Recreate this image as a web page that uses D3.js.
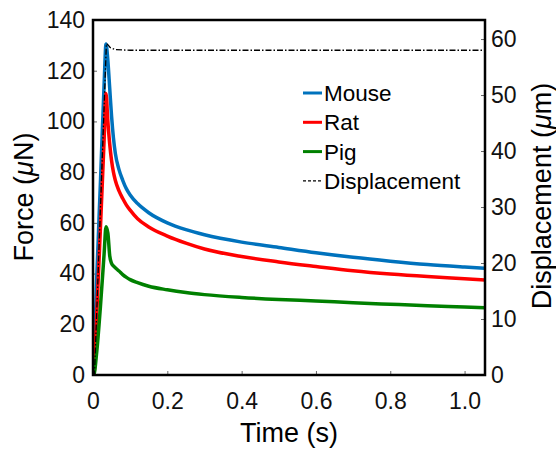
<!DOCTYPE html>
<html>
<head>
<meta charset="utf-8">
<script src="https://cdn.jsdelivr.net/npm/d3@7"></script>
<style>
  body { margin: 0; background: #fff; }
  text { font-family: "Liberation Sans", Arial, sans-serif; }
</style>
</head>
<body>
<div id="chart"></div>
<script>
// values
let time = [0, 0.002, 0.01, 0.02, 0.03, 0.035, 0.04, 0.045, 0.05, 0.055, 0.06, 0.07, 0.08, 0.09, 0.1, 0.12, 0.15, 0.2, 0.25, 0.3, 0.4, 0.5, 0.6, 0.7, 0.8, 0.9, 1.0, 1.055];
let mouse = [0, 4, 38, 76, 115, 130.5, 124, 113, 102, 93.5, 87.5, 81, 76.8, 73.4, 71, 67.6, 64, 60, 57.3, 55.3, 52.4, 50.3, 48.2, 46.4, 44.9, 43.6, 42.6, 42.1];
let rat = [0, 0, 24, 58, 93, 111, 100, 91, 84.5, 80, 76.8, 72.6, 69.6, 67, 65, 61.6, 58.4, 54.8, 52, 49.7, 46.7, 44.6, 42.8, 41.1, 39.8, 38.8, 38, 37.5];
let pig = [0, 0, 9, 27, 48, 58.5, 56, 47, 44, 43, 42.3, 41, 39.6, 38.5, 37.6, 36.4, 35, 33.6, 32.5, 31.7, 30.6, 29.8, 29.2, 28.5, 27.9, 27.3, 26.8, 26.5];
let dispTime = [0, 0.004, 0.036, 0.04, 0.046, 0.06, 0.1, 0.5, 1.055];
let displacement = [0, 0, 59.2, 59, 58.5, 58.1, 58, 58, 58];

let xTicks = [0, 0.2, 0.4, 0.6, 0.8, 1.0];
let xTickLabels = ["0", "0.2", "0.4", "0.6", "0.8", "1.0"];
let yTicks = [0, 20, 40, 60, 80, 100, 120, 140];
let y2Ticks = [0, 10, 20, 30, 40, 50, 60];

let seriesNames = ["Mouse", "Rat", "Pig"];
let seriesColors = ["#0072BD", "#FF0000", "#008000"];

let w = 556;
let h = 450;
let pLeft = 93, pRight = 485, pTop = 20, pBottom = 375;

let svg = d3.select("#chart")
    .append("svg")
    .attr("width", w)
    .attr("height", h);

let xScale = d3.scaleLinear().domain([0, 1.055]).range([pLeft, pRight]);
let yScale = d3.scaleLinear().domain([0, 140]).range([pBottom, pTop]);
let y2Scale = d3.scaleLinear().domain([0, 63.4]).range([pBottom, pTop]);

svg.append("clipPath")
    .attr("id", "plot")
    .append("rect")
    .attr("x", pLeft)
    .attr("y", pTop - 5)
    .attr("width", pRight - pLeft)
    .attr("height", pBottom - pTop + 5);

// axes, ticks point inward
let xAxis = d3.axisBottom(xScale)
    .tickValues(xTicks)
    .tickFormat(function (d, i) { return xTickLabels[i]; })
    .tickSize(-4)
    .tickPadding(18);
let xAxisGroup = svg.append("g")
    .attr("transform", "translate(0," + pBottom + ")")
    .call(xAxis);

let yAxis = d3.axisLeft(yScale)
    .tickValues(yTicks)
    .tickSize(-4)
    .tickPadding(8);
let yAxisGroup = svg.append("g")
    .attr("transform", "translate(" + pLeft + ",0)")
    .call(yAxis);

let y2Axis = d3.axisRight(y2Scale)
    .tickValues(y2Ticks)
    .tickSize(-4)
    .tickPadding(6);
let y2AxisGroup = svg.append("g")
    .attr("transform", "translate(" + pRight + ",0)")
    .call(y2Axis);

svg.selectAll(".domain").remove();
svg.selectAll(".tick line").attr("stroke", "#666").attr("stroke-width", 1);
svg.selectAll(".tick text")
    .attr("font-size", 23)
    .attr("fill", "#111")
    .style("font-family", "'Liberation Sans', Arial, sans-serif");

// curves
let plot = svg.append("g").attr("clip-path", "url(#plot)");
let line = d3.line()
    .curve(d3.curveMonotoneX)
    .x(function (d) { return xScale(d[0]); })
    .y(function (d) { return yScale(d[1]); });

[mouse, rat, pig].forEach(function (vals, i) {
    plot.append("path")
        .datum(time.map(function (t, j) { return [t, vals[j]]; }))
        .attr("d", line)
        .attr("fill", "none")
        .attr("stroke", seriesColors[i])
        .attr("stroke-width", 3.5)
        .attr("stroke-linejoin", "round");
});

let dispLine = d3.line()
    .x(function (d) { return xScale(d[0]); })
    .y(function (d) { return y2Scale(d[1]); });
plot.append("path")
    .datum(dispTime.map(function (t, j) { return [t, displacement[j]]; }))
    .attr("d", dispLine)
    .attr("fill", "none")
    .attr("stroke", "#000")
    .attr("stroke-width", 1.3)
    .attr("stroke-dasharray", "6,2,1.5,2");

// frame
svg.append("rect")
    .attr("x", pLeft)
    .attr("y", pTop)
    .attr("width", pRight - pLeft)
    .attr("height", pBottom - pTop)
    .attr("fill", "none")
    .attr("stroke", "#000")
    .attr("stroke-width", 2.5);

// axis labels
svg.append("text")
    .attr("x", (pLeft + pRight) / 2)
    .attr("y", 442)
    .attr("text-anchor", "middle")
    .attr("font-size", 27)
    .text("Time (s)");

let yLab = svg.append("text")
    .attr("transform", "translate(33,197) rotate(-90)")
    .attr("text-anchor", "middle")
    .attr("font-size", 27);
yLab.append("tspan").text("Force (");
yLab.append("tspan").attr("font-style", "italic").text("\u03bc");
yLab.append("tspan").text("N)");

let y2Lab = svg.append("text")
    .attr("transform", "translate(551,196) rotate(-90)")
    .attr("text-anchor", "middle")
    .attr("font-size", 27);
y2Lab.append("tspan").text("Displacement (");
y2Lab.append("tspan").attr("font-style", "italic").text("\u03bc");
y2Lab.append("tspan").text("m)");

// legend
let legendNames = seriesNames.concat(["Displacement"]);
let legend = svg.append("g");
legendNames.forEach(function (name, i) {
    let y = 93 + i * 29.3;
    legend.append("line")
        .attr("x1", 303)
        .attr("x2", 322)
        .attr("y1", y)
        .attr("y2", y)
        .attr("stroke", i < 3 ? seriesColors[i] : "#000")
        .attr("stroke-width", i < 3 ? 3 : 1.2)
        .attr("stroke-dasharray", i < 3 ? null : "3,2");
    legend.append("text")
        .attr("x", 324)
        .attr("y", y)
        .attr("dy", "0.36em")
        .attr("font-size", 22.5)
        .text(name);
});
</script>
</body>
</html>
